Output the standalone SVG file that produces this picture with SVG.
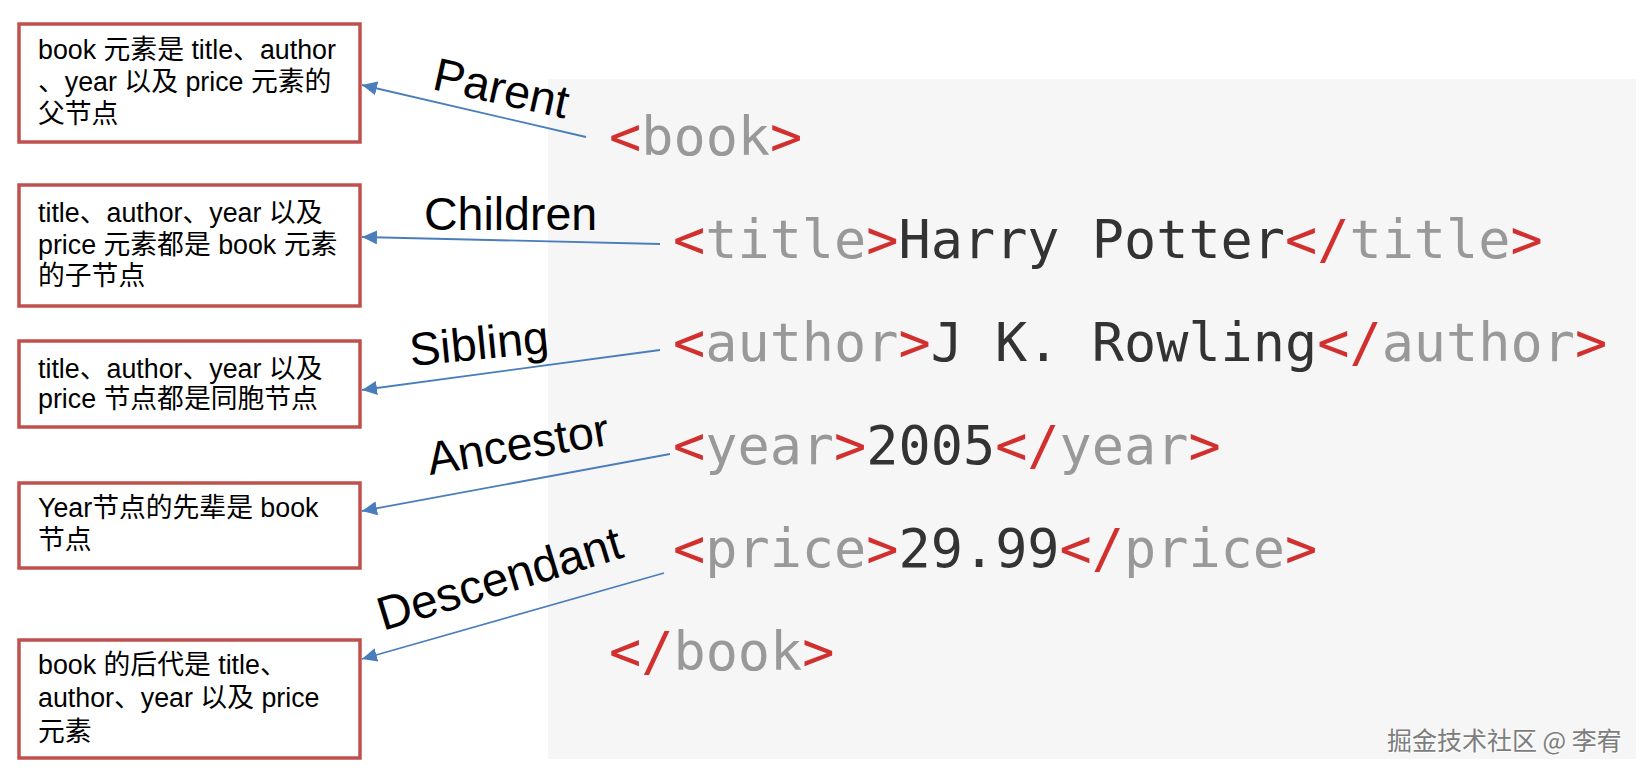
<svg xmlns="http://www.w3.org/2000/svg" width="1645" height="778" viewBox="0 0 1645 778">
<style>
.box{fill:#ffffff;stroke:#c0504d;stroke-width:3.5}
.bt{font-family:"Liberation Sans","Noto Sans CJK SC",sans-serif;font-size:26.8px;fill:#000}
.lbl{font-family:"Liberation Sans",Arial,sans-serif;font-size:46.5px;fill:#000}
.code{font-family:"DejaVu Sans Mono",monospace;font-size:53.5px}
.r{fill:#d1302e}
.g{fill:#999999}
.k{fill:#333333}
.conn line{stroke:#4a7ebb;stroke-width:1.8;marker-end:url(#ah)}
.wm{font-family:"Noto Sans CJK SC",sans-serif;font-size:25px}
</style>
<defs>
<marker id="ah" markerUnits="userSpaceOnUse" markerWidth="16" markerHeight="14" refX="15" refY="7" orient="auto">
<path d="M0,0 L15,7 L0,14 z" fill="#4a7ebb"/>
</marker>
</defs>
<rect width="1645" height="778" fill="#ffffff"/>
<rect id="codebg" x="548" y="79" width="1088" height="680" fill="#f6f6f6"/>

<g id="code">
<text class="code" x="609" y="155"><tspan class="r">&lt;</tspan><tspan class="g">book</tspan><tspan class="r">&gt;</tspan></text>
<text class="code" x="673" y="258"><tspan class="r">&lt;</tspan><tspan class="g">title</tspan><tspan class="r">&gt;</tspan><tspan class="k">Harry Potter</tspan><tspan class="r">&lt;/</tspan><tspan class="g">title</tspan><tspan class="r">&gt;</tspan></text>
<text class="code" x="673" y="361"><tspan class="r">&lt;</tspan><tspan class="g">author</tspan><tspan class="r">&gt;</tspan><tspan class="k">J K. Rowling</tspan><tspan class="r">&lt;/</tspan><tspan class="g">author</tspan><tspan class="r">&gt;</tspan></text>
<text class="code" x="673" y="464"><tspan class="r">&lt;</tspan><tspan class="g">year</tspan><tspan class="r">&gt;</tspan><tspan class="k">2005</tspan><tspan class="r">&lt;/</tspan><tspan class="g">year</tspan><tspan class="r">&gt;</tspan></text>
<text class="code" x="673" y="567"><tspan class="r">&lt;</tspan><tspan class="g">price</tspan><tspan class="r">&gt;</tspan><tspan class="k">29.99</tspan><tspan class="r">&lt;/</tspan><tspan class="g">price</tspan><tspan class="r">&gt;</tspan></text>
<text class="code" x="609" y="670"><tspan class="r">&lt;/</tspan><tspan class="g">book</tspan><tspan class="r">&gt;</tspan></text>
</g>

<g id="node-parent">
<rect class="box" x="19" y="24" width="341" height="118"/>
<text class="bt" x="38" y="59">book 元素是 title、author</text>
<text class="bt" x="38" y="91">、year 以及 price 元素的</text>
<text class="bt" x="38" y="123">父节点</text>
</g>
<g id="node-children">
<rect class="box" x="19" y="185" width="341" height="121"/>
<text class="bt" x="38" y="222">title、author、year 以及</text>
<text class="bt" x="38" y="254">price 元素都是 book 元素</text>
<text class="bt" x="38" y="285">的子节点</text>
</g>
<g id="node-sibling">
<rect class="box" x="19" y="341" width="341" height="86"/>
<text class="bt" x="38" y="378">title、author、year 以及</text>
<text class="bt" x="38" y="408">price 节点都是同胞节点</text>
</g>
<g id="node-ancestor">
<rect class="box" x="19" y="483" width="341" height="85"/>
<text class="bt" x="38" y="517">Year节点的先辈是 book</text>
<text class="bt" x="38" y="549">节点</text>
</g>
<g id="node-descendant">
<rect class="box" x="19" y="640" width="341" height="118"/>
<text class="bt" x="38" y="674">book 的后代是 title、</text>
<text class="bt" x="38" y="707">author、year 以及 price</text>
<text class="bt" x="38" y="741">元素</text>
</g>

<g id="connectors" class="conn">
<line x1="586" y1="137" x2="362" y2="85"/>
<line x1="660" y1="244" x2="362" y2="237"/>
<line x1="660" y1="350" x2="362" y2="390"/>
<line x1="670" y1="454" x2="362" y2="511"/>
<line x1="664" y1="573" x2="362" y2="659"/>
</g>

<g id="labels">
<text class="lbl" transform="translate(431,89) rotate(12.5)">Parent</text>
<text class="lbl" x="424" y="230">Children</text>
<text class="lbl" transform="translate(411,366) rotate(-5.5)">Sibling</text>
<text class="lbl" transform="translate(430,475) rotate(-9.5)">Ancestor</text>
<text class="lbl" style="font-size:47.5px" transform="translate(383,631) rotate(-17)">Descendant</text>
</g>

<g id="watermark">
<text class="wm" x="1388" y="751" fill="#ffffff">掘金技术社区 @ 李宥</text>
<text class="wm" x="1387" y="750" fill="#7d7d7d">掘金技术社区 @ 李宥</text>
</g>
</svg>
